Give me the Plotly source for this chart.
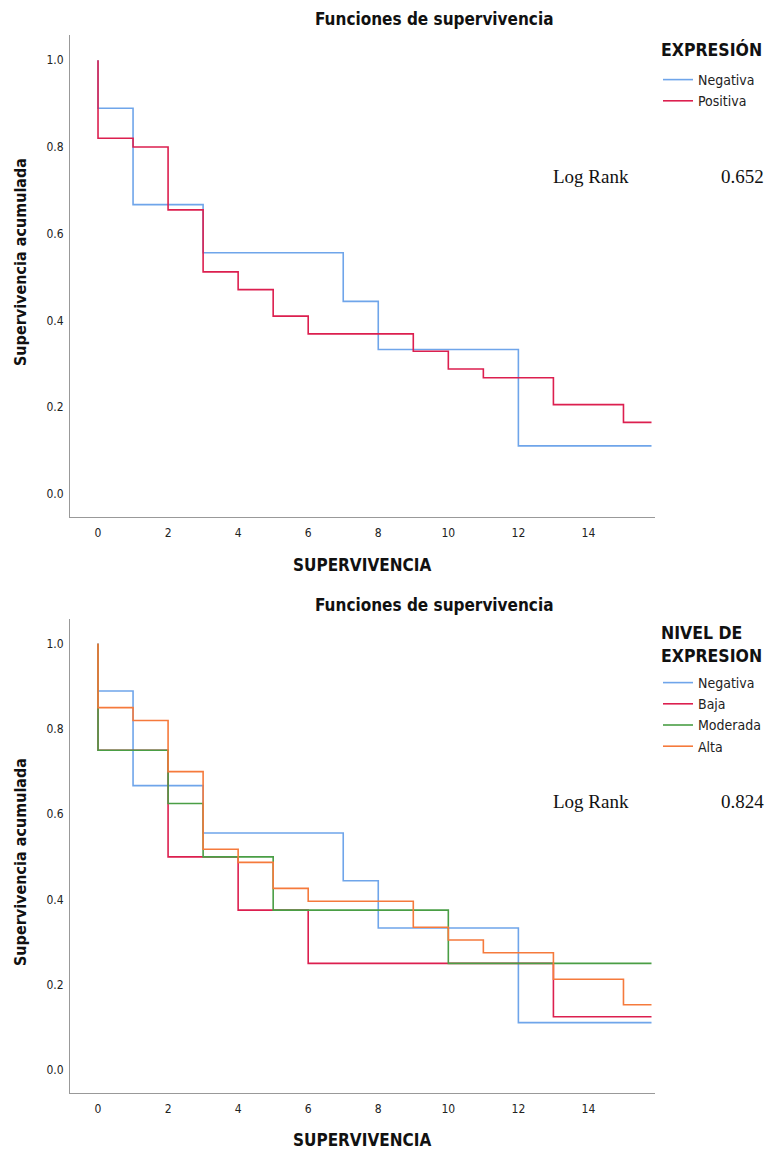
import plotly.graph_objects as go

W, H = 769, 1150

# ---------------- data ----------------
# Top chart: EXPRESIÓN
t_neg = [0, 0, 1, 3, 7, 8, 12, 15.8]
s_neg = [1.0, 0.889, 0.667, 0.556, 0.444, 0.333, 0.111, 0.111]

t_pos = [0, 0, 1, 2, 3, 4, 5, 6, 9, 10, 11, 13, 15, 15.8]
s_pos = [1.0, 0.82, 0.80, 0.655, 0.512, 0.471, 0.41, 0.369, 0.329, 0.288, 0.268, 0.206, 0.165, 0.165]

# Bottom chart: NIVEL DE EXPRESION
t_baja = [0, 0, 2, 4, 6, 13, 15.8]
s_baja = [1.0, 0.75, 0.5, 0.375, 0.25, 0.125, 0.125]

t_mod = [0, 0, 2, 3, 5, 10, 15.8]
s_mod = [1.0, 0.75, 0.625, 0.5, 0.375, 0.25, 0.25]

t_alta = [0, 0, 1, 2, 3, 4, 5, 6, 9, 10, 11, 13, 15, 15.8]
s_alta = [1.0, 0.85, 0.82, 0.70, 0.518, 0.487, 0.426, 0.396, 0.335, 0.305, 0.275, 0.213, 0.153, 0.153]

x_ticks = [0, 2, 4, 6, 8, 10, 12, 14]
y_ticks = [0.0, 0.2, 0.4, 0.6, 0.8, 1.0]
y_tick_text = ["0.0", "0.2", "0.4", "0.6", "0.8", "1.0"]

log_rank_top = "0.652"
log_rank_bottom = "0.824"

# ---------------- style ----------------
C_NEG = "#6fa5ea"
C_POS = "#dc1f4f"
C_BAJA = "#dc1f4f"
C_MOD = "#4a9e45"
C_ALTA = "#f57a3c"
LW = 1.6

SANS = "DejaVu Sans Condensed, DejaVu Sans, sans-serif"
SERIF = "Liberation Serif, Times New Roman, serif"


def px_x(p):
    return p / W


def px_y(p):
    return 1 - p / H


fig = go.Figure()

# top traces
fig.add_trace(go.Scatter(x=t_neg, y=s_neg, mode="lines", line=dict(color=C_NEG, width=LW, shape="hv"),
                         name="Negativa", xaxis="x", yaxis="y", legend="legend"))
fig.add_trace(go.Scatter(x=t_pos, y=s_pos, mode="lines", line=dict(color=C_POS, width=LW, shape="hv"),
                         name="Positiva", xaxis="x", yaxis="y", legend="legend"))

# bottom traces
fig.add_trace(go.Scatter(x=t_neg, y=s_neg, mode="lines", line=dict(color=C_NEG, width=LW, shape="hv"),
                         name="Negativa", xaxis="x2", yaxis="y2", legend="legend2"))
fig.add_trace(go.Scatter(x=t_baja, y=s_baja, mode="lines", line=dict(color=C_BAJA, width=LW, shape="hv"),
                         name="Baja", xaxis="x2", yaxis="y2", legend="legend2"))
fig.add_trace(go.Scatter(x=t_mod, y=s_mod, mode="lines", line=dict(color=C_MOD, width=LW, shape="hv"),
                         name="Moderada", xaxis="x2", yaxis="y2", legend="legend2"))
fig.add_trace(go.Scatter(x=t_alta, y=s_alta, mode="lines", line=dict(color=C_ALTA, width=LW, shape="hv"),
                         name="Alta", xaxis="x2", yaxis="y2", legend="legend2"))

xdom = [px_x(70), px_x(655)]
xr = [-0.8, 15.9]

axis_common = dict(showgrid=False, zeroline=False, showline=True, linecolor="#999999", linewidth=1,
                   ticks="outside", tickcolor="rgba(0,0,0,0)", tickfont=dict(family=SANS, size=12, color="#222"))

fig.update_layout(
    width=W, height=H,
    margin=dict(l=0, r=0, t=0, b=0),
    paper_bgcolor="white", plot_bgcolor="white",
    xaxis=dict(domain=xdom, range=xr, tickvals=x_ticks, ticklen=5, anchor="y", **axis_common),
    yaxis=dict(domain=[px_y(517), px_y(35)], range=[-0.053, 1.058], tickvals=y_ticks, ticktext=y_tick_text,
               ticklen=3, anchor="x", **axis_common),
    xaxis2=dict(domain=xdom, range=xr, tickvals=x_ticks, ticklen=5, anchor="y2", **axis_common),
    yaxis2=dict(domain=[px_y(1093), px_y(619)], range=[-0.054, 1.058], tickvals=y_ticks, ticktext=y_tick_text,
                ticklen=3, anchor="x2", **axis_common),
    legend=dict(x=px_x(658), y=px_y(64), xanchor="left", yanchor="top",
                font=dict(family=SANS, size=14, color="#222"), itemwidth=30, tracegroupgap=0,
                bgcolor="rgba(0,0,0,0)"),
    legend2=dict(x=px_x(658), y=px_y(667), xanchor="left", yanchor="top",
                 font=dict(family=SANS, size=14, color="#222"), itemwidth=30, tracegroupgap=0,
                 bgcolor="rgba(0,0,0,0)"),
    showlegend=True,
)

annots = []
for (ty, xty, yty, lry, lrv) in [(19, 565, 262, 177, log_rank_top), (605, 1140, 862, 801, log_rank_bottom)]:
    annots.append(dict(text="<b>Funciones de supervivencia</b>", x=px_x(434), y=px_y(ty), xref="paper", yref="paper",
                       showarrow=False, font=dict(family=SANS, size=17, color="#111"), xanchor="center", yanchor="middle"))
    annots.append(dict(text="<b>SUPERVIVENCIA</b>", x=px_x(362), y=px_y(xty), xref="paper", yref="paper",
                       showarrow=False, font=dict(family=SANS, size=17, color="#111"), xanchor="center", yanchor="middle"))
    annots.append(dict(text="<b>Supervivencia acumulada</b>", x=px_x(20), y=px_y(yty), xref="paper", yref="paper",
                       showarrow=False, textangle=-90, font=dict(family=SANS, size=16, color="#111"),
                       xanchor="center", yanchor="middle"))
    annots.append(dict(text="Log Rank", x=px_x(551), y=px_y(lry), xref="paper", yref="paper",
                       showarrow=False, font=dict(family=SERIF, size=19, color="#111"), xanchor="left", yanchor="middle"))
    annots.append(dict(text=lrv, x=px_x(766), y=px_y(lry), xref="paper", yref="paper",
                       showarrow=False, font=dict(family=SERIF, size=19, color="#111"), xanchor="right", yanchor="middle"))

# legend titles
annots.append(dict(text="<b>EXPRESIÓN</b>", x=px_x(659), y=px_y(50), xref="paper", yref="paper", showarrow=False,
                   font=dict(family=SANS, size=17.5, color="#111"), xanchor="left", yanchor="middle"))
annots.append(dict(text="<b>NIVEL DE<br>EXPRESION</b>", x=px_x(659), y=px_y(644), xref="paper", yref="paper",
                   showarrow=False, align="left", font=dict(family=SANS, size=17.5, color="#111"),
                   xanchor="left", yanchor="middle"))
fig.update_layout(annotations=annots)

fig.write_html("out.html", config={"displayModeBar": False},
               post_script="document.body.style.margin='0';document.body.style.overflow='hidden';")
